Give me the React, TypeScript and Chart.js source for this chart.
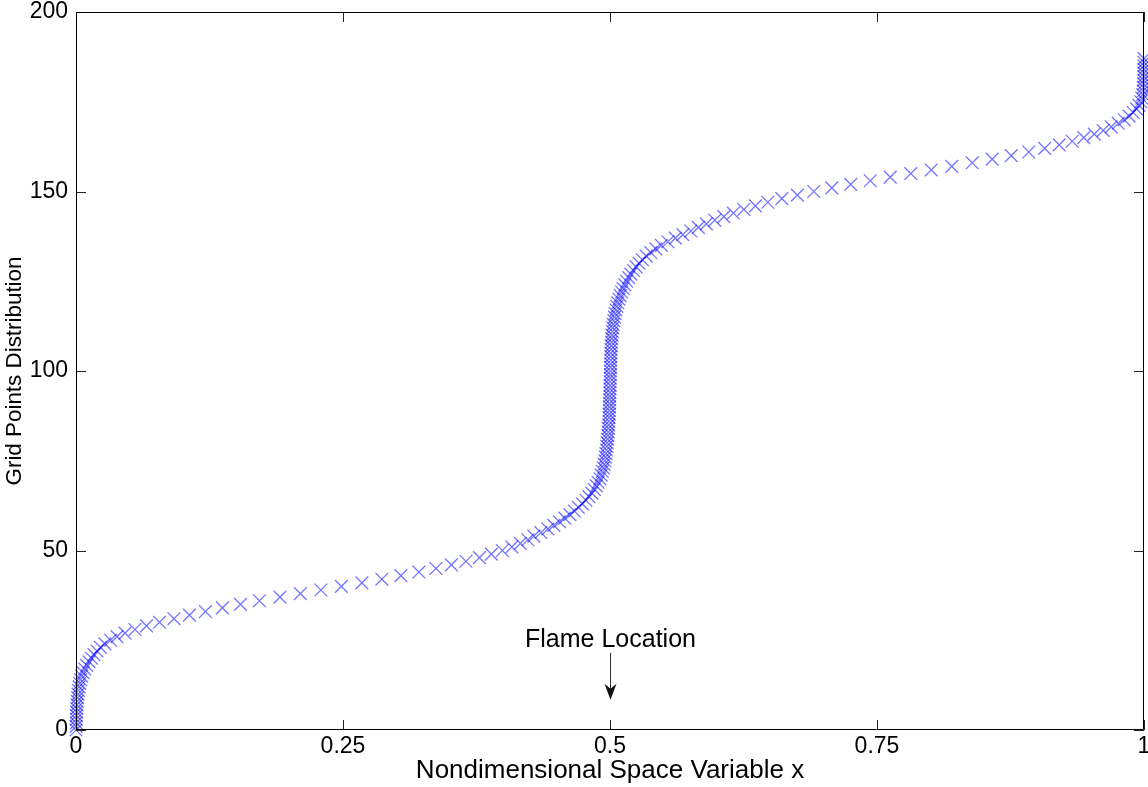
import React, { useEffect, useRef } from "react";
import { Chart, registerables } from "chart.js";

Chart.register(...registerables);

// Grid point index (y) and its nondimensional location (x)
const gridIndex = [
  0, 1, 2, 3, 4, 5, 6, 7, 8, 9,
  10, 11, 12, 13, 14, 15, 16, 17, 18, 19,
  20, 21, 22, 23, 24, 25, 26, 27, 28, 29,
  30, 31, 32, 33, 34, 35, 36, 37, 38, 39,
  40, 41, 42, 43, 44, 45, 46, 47, 48, 49,
  50, 51, 52, 53, 54, 55, 56, 57, 58, 59,
  60, 61, 62, 63, 64, 65, 66, 67, 68, 69,
  70, 71, 72, 73, 74, 75, 76, 77, 78, 79,
  80, 81, 82, 83, 84, 85, 86, 87, 88, 89,
  90, 91, 92, 93, 94, 95, 96, 97, 98, 99,
  100, 101, 102, 103, 104, 105, 106, 107, 108, 109,
  110, 111, 112, 113, 114, 115, 116, 117, 118, 119,
  120, 121, 122, 123, 124, 125, 126, 127, 128, 129,
  130, 131, 132, 133, 134, 135, 136, 137, 138, 139,
  140, 141, 142, 143, 144, 145, 146, 147, 148, 149,
  150, 151, 152, 153, 154, 155, 156, 157, 158, 159,
  160, 161, 162, 163, 164, 165, 166, 167, 168, 169,
  170, 171, 172, 173, 174, 175, 176, 177, 178, 179,
  180, 181, 182, 183, 184, 185, 186, 187,
];

const xPosition = [
  0, 0.0001, 0.0002, 0.0003, 0.0004, 0.0006, 0.0007, 0.0009, 0.0012, 0.0015,
  0.0019, 0.0023, 0.0029, 0.0036, 0.0044, 0.0054, 0.0067, 0.0082, 0.01, 0.0122,
  0.0145, 0.0168, 0.0197, 0.0229, 0.0271, 0.0323, 0.0384, 0.0459, 0.0552, 0.066,
  0.0782, 0.0917, 0.1062, 0.1212, 0.1371, 0.154, 0.1718, 0.191, 0.2101, 0.2293,
  0.2485, 0.2677, 0.2864, 0.3042, 0.3211, 0.337, 0.3515, 0.3651, 0.3777, 0.3889,
  0.3992, 0.4081, 0.4161, 0.4231, 0.4287, 0.4353, 0.4418, 0.4474, 0.4526, 0.4577,
  0.4624, 0.4666, 0.4704, 0.4741, 0.4774, 0.4802, 0.483, 0.4853, 0.4872, 0.4889,
  0.4905, 0.4917, 0.4928, 0.4938, 0.4945, 0.4952, 0.4957, 0.4962, 0.4967, 0.4971,
  0.4974, 0.4978, 0.4981, 0.4984, 0.4986, 0.4988, 0.499, 0.4992, 0.4993, 0.4994,
  0.4995, 0.4996, 0.4997, 0.4998, 0.4999, 0.5, 0.5001, 0.5001, 0.5002, 0.5003,
  0.5004, 0.5005, 0.5006, 0.5007, 0.5008, 0.5008, 0.501, 0.5012, 0.5014, 0.5016,
  0.5019, 0.5022, 0.5026, 0.503, 0.5036, 0.5042, 0.5048, 0.5056, 0.5064, 0.5073,
  0.5084, 0.5096, 0.5109, 0.5123, 0.5139, 0.5156, 0.5175, 0.5195, 0.5219, 0.5244,
  0.5272, 0.5303, 0.534, 0.5382, 0.5429, 0.5481, 0.5542, 0.5612, 0.5682, 0.5757,
  0.5827, 0.5902, 0.5981, 0.6066, 0.6155, 0.6253, 0.6361, 0.6478, 0.6609, 0.6754,
  0.6908, 0.7077, 0.7254, 0.7437, 0.7624, 0.7816, 0.8008, 0.82, 0.8392, 0.8579,
  0.8757, 0.8921, 0.907, 0.9206, 0.9328, 0.9436, 0.9534, 0.9618, 0.9693, 0.9759,
  0.9815, 0.9861, 0.9899, 0.993, 0.9953, 0.9969, 0.998, 0.9988, 0.9992, 0.9995,
  0.9997, 0.9998, 0.9999, 0.99993, 0.99996, 0.99998, 0.99999, 1.0,
];

const xTickValues = [0, 0.25, 0.5, 0.75, 1];
const yTickValues = [0, 50, 100, 150, 200];
const xAxisTitle = "Nondimensional Space Variable x";
const yAxisTitle = "Grid Points Distribution";

const flameLabel = "Flame Location";
const flameX = 0.5;
const flameLabelY = 23.1;
const flameArrowFromY = 21.5;
const flameArrowToY = 8.4;

const FONT = "'Liberation Sans', Arial, Helvetica, sans-serif";

const framePlugin = {
  id: "matlabFrame",
  afterDatasetsDraw(chart: any) {
    const { ctx, chartArea, scales } = chart;
    const { left, right, top, bottom } = chartArea;
    const xs = scales.x;
    const ys = scales.y;
    ctx.save();
    // ticks (inward, on all four sides)
    ctx.strokeStyle = "#222";
    ctx.lineWidth = 1;
    const T = 10;
    ctx.beginPath();
    xTickValues.forEach((v) => {
      const px = Math.round(xs.getPixelForValue(v)) + 0.5;
      ctx.moveTo(px, bottom);
      ctx.lineTo(px, bottom - T);
      ctx.moveTo(px, top);
      ctx.lineTo(px, top + T);
    });
    yTickValues.forEach((v) => {
      const py = Math.round(ys.getPixelForValue(v)) + 0.5;
      ctx.moveTo(left, py);
      ctx.lineTo(left + T, py);
      ctx.moveTo(right, py);
      ctx.lineTo(right - T, py);
    });
    ctx.stroke();
    // box
    ctx.strokeStyle = "#000";
    ctx.beginPath();
    const l = Math.round(left) + 0.5;
    const r = Math.round(right) - 0.5;
    const t = Math.round(top) + 0.5;
    const b = Math.round(bottom) - 0.5;
    ctx.moveTo(l, t);
    ctx.lineTo(r, t);
    ctx.lineTo(r, b);
    ctx.lineTo(l, b);
    ctx.closePath();
    ctx.stroke();

    // annotation
    const ax = Math.round(xs.getPixelForValue(flameX)) + 0.5;
    ctx.fillStyle = "#000";
    ctx.font = `25px ${FONT}`;
    ctx.textAlign = "center";
    ctx.textBaseline = "alphabetic";
    ctx.fillText(flameLabel, ax, ys.getPixelForValue(flameLabelY));
    const y0 = ys.getPixelForValue(flameArrowFromY);
    const y1 = ys.getPixelForValue(flameArrowToY);
    ctx.strokeStyle = "#333";
    ctx.beginPath();
    ctx.moveTo(ax, y0);
    ctx.lineTo(ax, y1 - 4);
    ctx.stroke();
    ctx.fillStyle = "#111";
    ctx.beginPath();
    ctx.moveTo(ax, y1);
    ctx.lineTo(ax - 6, y1 - 16);
    ctx.lineTo(ax, y1 - 11);
    ctx.lineTo(ax + 6, y1 - 16);
    ctx.closePath();
    ctx.fill();
    ctx.restore();
  },
};

export default function App() {
  const ref = useRef<HTMLCanvasElement | null>(null);

  useEffect(() => {
    if (!ref.current) return;
    const points = gridIndex.map((g, i) => ({ x: xPosition[i], y: g }));
    const chart = new Chart(ref.current, {
      type: "scatter",
      data: {
        datasets: [
          {
            data: points,
            showLine: false,
            pointStyle: "crossRot",
            pointRadius: 9,
            pointBorderWidth: 1.3,
            borderColor: "rgba(0,0,255,0.55)",
            backgroundColor: "rgba(0,0,255,0.55)",
            clip: 12,
          },
        ],
      },
      options: {
        responsive: false,
        animation: false,
        events: [],
        layout: { autoPadding: false, padding: { top: 12, right: 4, left: 0, bottom: 0 } },
        plugins: { legend: { display: false }, tooltip: { enabled: false } },
        scales: {
          x: {
            type: "linear",
            min: 0,
            max: 1,
            afterBuildTicks: (s: any) => {
              s.ticks = xTickValues.map((v) => ({ value: v }));
            },
            ticks: {
              color: "#000",
              font: { family: FONT, size: 23 },
              padding: 3,
              maxRotation: 0,
              callback: (v: any) => String(v),
            },
            grid: { display: false, drawTicks: false },
            border: { display: false },
            title: {
              display: true,
              text: xAxisTitle,
              color: "#000",
              font: { family: FONT, size: 26 },
              padding: { top: 0, bottom: 1 },
            },
            afterFit: (s: any) => {
              s.height = 57;
              s.paddingLeft = 0;
              s.paddingRight = 0;
            },
          },
          y: {
            type: "linear",
            min: 0,
            max: 200,
            afterBuildTicks: (s: any) => {
              s.ticks = yTickValues.map((v) => ({ value: v }));
            },
            ticks: {
              color: "#000",
              font: { family: FONT, size: 23 },
              padding: 8,
              callback: (v: any) => String(v),
            },
            grid: { display: false, drawTicks: false },
            border: { display: false },
            title: {
              display: true,
              text: yAxisTitle,
              color: "#000",
              font: { family: FONT, size: 22.4 },
              padding: { top: 1, bottom: 0 },
            },
            afterFit: (s: any) => {
              s.width = 76;
              s.paddingTop = 0;
              s.paddingBottom = 0;
            },
          },
        },
      },
      plugins: [framePlugin],
    });
    return () => chart.destroy();
  }, []);

  return (
    <div style={{ position: "fixed", left: 0, top: 0, width: 1148, height: 787, background: "#fff" }}>
      <canvas ref={ref} width={1148} height={787} style={{ display: "block" }} />
    </div>
  );
}
